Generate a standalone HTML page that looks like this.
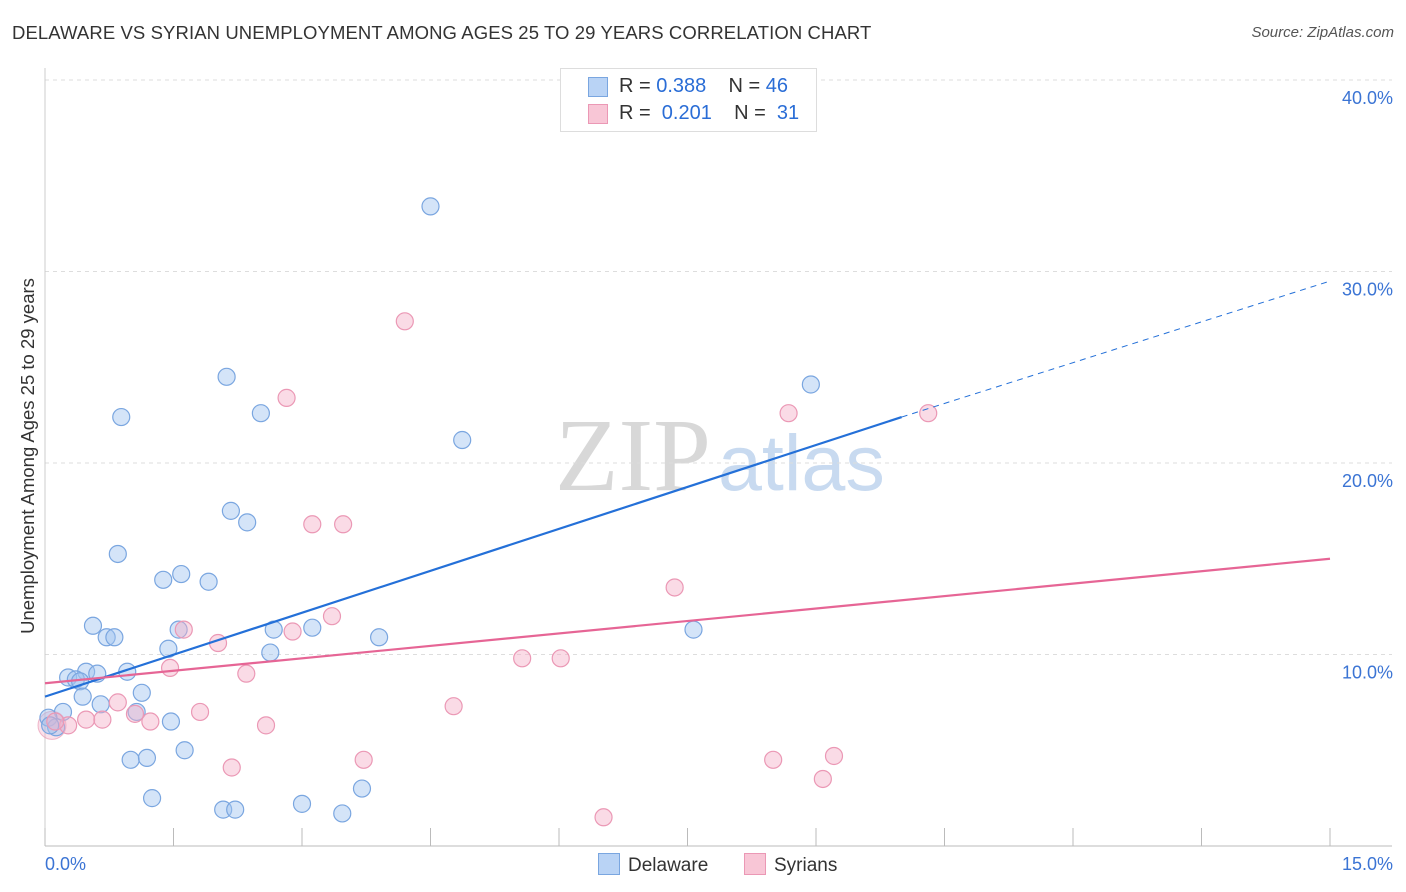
<!DOCTYPE html>
<html><head><meta charset="utf-8">
<style>
body{margin:0;background:#fff;font-family:"Liberation Sans",sans-serif;}
#wrap{position:relative;width:1406px;height:892px;overflow:hidden;}
.t{position:absolute;white-space:nowrap;}
</style></head>
<body>
<div id="wrap">
<div class="t" style="left:12px;top:22px;font-size:18.5px;color:#333;letter-spacing:0.1px;">DELAWARE VS SYRIAN UNEMPLOYMENT AMONG AGES 25 TO 29 YEARS CORRELATION CHART</div>
<div class="t" style="right:12px;top:24px;font-size:15px;color:#555;font-style:italic;">Source: ZipAtlas.com</div>
<div class="t" style="left:28px;top:456px;font-size:18.5px;color:#333;transform:translate(-50%,-50%) rotate(-90deg);">Unemployment Among Ages 25 to 29 years</div>
<svg id="svg" width="1406" height="892" style="position:absolute;left:0;top:0;"></svg>
</div>
<script>
const xTicks=[0,1.5,3,4.5,6,7.5,9,10.5,12,13.5,15];
const yTicks=[10,20,30,40];
const delX=[4.5,2.12,8.94,0.89,2.52,4.87,2.17,2.36,0.85,1.59,1.38,1.91,0.56,0.72,0.81,1.56,2.67,3.12,3.9,7.57,1.44,2.63,0.48,0.27,0.61,0.96,0.36,0.41,0.44,1.13,0.65,1.07,0.21,0.04,0.13,1.47,1.63,1.0,1.19,1.25,2.08,2.22,3.0,3.47,3.7,0.06];
const delY=[33.4,24.5,24.1,22.4,22.6,21.2,17.5,16.9,15.25,14.2,13.9,13.8,11.5,10.9,10.9,11.3,11.3,11.4,10.9,11.3,10.3,10.1,9.1,8.8,9.0,9.1,8.7,8.6,7.8,8.0,7.4,7.0,7.0,6.7,6.2,6.5,5.0,4.5,4.6,2.5,1.9,1.9,2.2,1.7,3.0,6.3];
const syrX=[4.2,2.82,8.68,10.31,3.12,3.48,7.35,3.35,1.62,2.89,2.02,1.46,5.57,6.02,2.35,0.85,1.81,1.05,1.23,4.77,0.48,0.67,0.27,0.12,2.58,2.18,3.72,8.5,9.21,9.08,6.52];
const syrY=[27.4,23.4,22.6,22.6,16.8,16.8,13.5,12.0,11.3,11.2,10.6,9.3,9.8,9.8,9.0,7.5,7.0,6.9,6.5,7.3,6.6,6.6,6.3,6.5,6.3,4.1,4.5,4.5,4.7,3.5,1.5];
const delTrend=[7.8,22.4];const delTrendX=[0,10.0];
const delDashEnd=[15,29.5];
const syrTrend=[8.5,15.0];
const X=v=>45+v/1.5*128.5, Y=v=>846-v*19.15;
const svg=document.getElementById('svg');
const NS='http://www.w3.org/2000/svg';
function mk(tag,attrs){const e=document.createElementNS(NS,tag);for(const k in attrs)e.setAttribute(k,attrs[k]);svg.appendChild(e);return e;}
let wm=mk('text',{x:555,y:490,'font-size':104,fill:'#d8d8d8','font-family':'Liberation Serif'});wm.textContent='ZIP';


let wm2=mk('text',{x:718,y:490,'font-size':79,fill:'#c8daf0','font-family':'Liberation Sans'});wm2.textContent='atlas';


yTicks.forEach(v=>{
 let g=mk('line',{x1:45,x2:1392,y1:Y(v),y2:Y(v),stroke:'#ddd','stroke-dasharray':'4,4'});
 
 
 let t=mk('text',{x:1393,y:Y(v)+24,'text-anchor':'end','font-size':18,fill:'#3b74d4'});t.textContent=v.toFixed(1)+'%';
 
 
});
let ax=mk('line',{x1:45,x2:1392,y1:846,y2:846,stroke:'#bbb'});


let ay=mk('line',{x1:45,x2:45,y1:68,y2:846,stroke:'#ccc'});


xTicks.forEach(v=>{let l=mk('line',{x1:X(v),x2:X(v),y1:828,y2:846,stroke:'#bbb'});
 
 });
let xl0=mk('text',{x:45,y:870,'font-size':18,fill:'#3b74d4'});xl0.textContent='0.0%';


let xl1=mk('text',{x:1393,y:870,'text-anchor':'end','font-size':18,fill:'#3b74d4'});xl1.textContent='15.0%';


let bc=mk('circle',{cx:52,cy:Y(6.3),r:14,fill:'rgba(240,170,195,0.35)',stroke:'rgba(230,140,170,0.6)'});


delX.forEach((v,i)=>{let c=mk('circle',{cx:X(v),cy:Y(delY[i]),r:8.5,fill:'rgba(160,195,240,0.45)',stroke:'#7aa6e0','stroke-width':1.2});
 
 });
syrX.forEach((v,i)=>{let c=mk('circle',{cx:X(v),cy:Y(syrY[i]),r:8.5,fill:'rgba(245,175,200,0.45)',stroke:'#eb98b5','stroke-width':1.2});
 
 });
let dl=mk('line',{x1:X(delTrendX[0]),y1:Y(delTrend[0]),x2:X(delTrendX[1]),y2:Y(delTrend[1]),stroke:'#2470d8','stroke-width':2.2});


let dd=mk('line',{x1:X(delTrendX[1]),y1:Y(delTrend[1]),x2:X(delDashEnd[0]),y2:Y(delDashEnd[1]),stroke:'#2470d8','stroke-width':1,'stroke-dasharray':'6,5'});


let sl=mk('line',{x1:X(0),y1:Y(syrTrend[0]),x2:X(15),y2:Y(syrTrend[1]),stroke:'#e66595','stroke-width':2.2});


</script>
<div style="position:absolute;left:560px;top:68px;width:255px;height:62px;border:1px solid #ddd;background:#fff;font-size:20px;color:#333;">
 <div style="position:absolute;left:27px;top:8px;width:18px;height:18px;background:#b9d3f5;border:1px solid #7aa6e0;"></div>
 <div class="t" style="left:58px;top:6px;">R = <span style="color:#2a6dd6">0.388</span>&nbsp;&nbsp;&nbsp; N = <span style="color:#2a6dd6">46</span></div>
 <div style="position:absolute;left:27px;top:35px;width:18px;height:18px;background:#f8c6d6;border:1px solid #eb98b5;"></div>
 <div class="t" style="left:58px;top:33px;">R = <span style="color:#2a6dd6">&nbsp;0.201</span>&nbsp;&nbsp;&nbsp; N = &nbsp;<span style="color:#2a6dd6">31</span></div>
</div>
<div style="position:absolute;left:598px;top:853px;font-size:19px;color:#333;">
 <span style="display:inline-block;width:20px;height:20px;background:#b9d3f5;border:1px solid #7aa6e0;vertical-align:-4px;margin-right:8px;"></span>Delaware</div>
<div style="position:absolute;left:744px;top:853px;font-size:19px;color:#333;">
 <span style="display:inline-block;width:20px;height:20px;background:#f8c6d6;border:1px solid #eb98b5;vertical-align:-4px;margin-right:8px;"></span>Syrians</div>
</body></html>
